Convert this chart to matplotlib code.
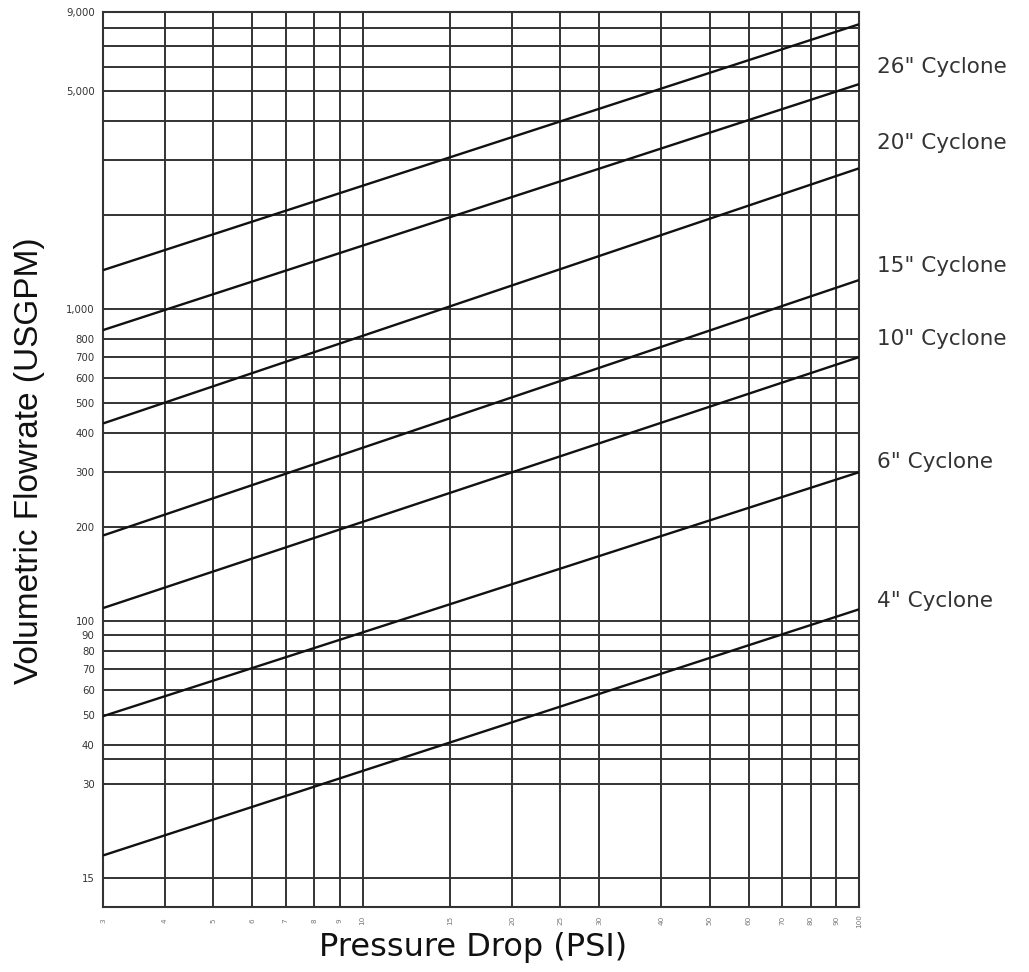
"""
Cyclone capacity chart: volumetric flowrate vs pressure drop (log-log).
"""
import numpy as np
import matplotlib
matplotlib.use("Agg")
import matplotlib.pyplot as plt

# Cyclone curves, read at the two edges of the chart (P = 3 and P = 100 psi)
cyclone_names = ["4\" Cyclone", "6\" Cyclone", "10\" Cyclone", "15\" Cyclone",
                 "20\" Cyclone", "26\" Cyclone", ""]
pressure_ends = [3, 100]
flow_at_3 = [17.7, 49.5, 110, 188, 430, 857, 1334]
flow_at_100 = [109, 300, 702, 1240, 2830, 5270, 8200]

# where each curve label sits (flowrate level on the right margin)
label_flow = [116, 323, 801, 1374, 3410, 5970]

# Grid / tick values
x_ticks = [3, 4, 5, 6, 7, 8, 9, 10, 15, 20, 25, 30, 40, 50, 60, 70, 80, 90, 100]
x_tick_labels = [str(v) for v in x_ticks]
y_ticks = [15, 30, 36, 40, 50, 60, 70, 80, 90, 100, 200, 300, 400, 500, 600,
           700, 800, 1000, 2000, 3000, 4000, 5000, 6000, 7000, 8000, 9000]
y_tick_labels = ["15", "30", "", "40", "50", "60", "70", "80", "90", "100",
                 "200", "300", "400", "500", "600", "700", "800", "1,000",
                 "", "", "", "5,000", "", "", "", "9,000"]

fig = plt.figure(figsize=(10.29, 9.72), dpi=100)
ax = fig.add_axes([0.1001, 0.0669, 0.7347, 0.9211])

ax.set_xscale("log")
ax.set_yscale("log")
ax.set_xlim(3, 100)
ax.set_ylim(12.1, 9000)

# grid lines
ax.set_xticks(x_ticks)
ax.set_xticklabels(x_tick_labels, rotation=90, fontsize=5.2, color="#777777",
                   va="center")
ax.set_yticks(y_ticks)
ax.set_yticklabels(y_tick_labels, fontsize=7.3, color="#333333")
ax.minorticks_off()
ax.tick_params(axis="x", length=0, pad=10)
ax.tick_params(axis="y", length=0, pad=6)
ax.grid(True, which="major", color="#333333", linewidth=1.4)

for spine in ax.spines.values():
    spine.set_color("#333333")
    spine.set_linewidth(1.5)

# cyclone lines
for i in range(len(cyclone_names)):
    ax.plot(pressure_ends, [flow_at_3[i], flow_at_100[i]],
            color="#111111", linewidth=1.7, solid_capstyle="butt", zorder=3)

# labels on the right margin
for name, yv in zip(cyclone_names, label_flow):
    ax.text(1.024, yv, name, transform=ax.get_yaxis_transform(),
            fontsize=15.5, color="#333333", va="center", ha="left")

ax.set_xlabel("Pressure Drop (PSI)", fontsize=23, color="#111111", va="center")
ax.xaxis.set_label_coords(0.49, -0.0455)
ax.set_ylabel("Volumetric Flowrate (USGPM)", fontsize=24, color="#111111",
              family="Liberation Sans", va="center")
ax.yaxis.set_label_coords(-0.0966, 0.498)

fig.savefig("out.png", dpi=100)
